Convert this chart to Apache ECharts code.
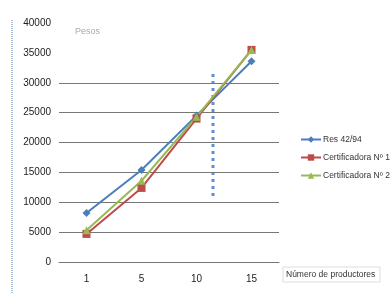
<!DOCTYPE html>
<html>
<head>
<meta charset="utf-8">
<script src="https://cdn.jsdelivr.net/npm/echarts@6/dist/echarts.min.js"></script>
<style>
  html, body { margin: 0; padding: 0; background: #fff; }
  #chart1 { width: 390px; height: 293px; }
</style>
</head>
<body>
<div id="chart1"></div>
<script>
// 数据
var categories = ['1', '5', '10', '15'];
var res4294 = [8200, 15400, 24500, 33600];
var cert1 = [4700, 12400, 24000, 35500];
var cert2 = [5300, 13600, 24300, 35500];
var seriesNames = ['Res 42/94', 'Certificadora Nº 1', 'Certificadora Nº 2'];

document.addEventListener('DOMContentLoaded', function () {
  var myChart = echarts.init(document.getElementById('chart1'));

  var option = {
    backgroundColor: '#fff',
    animation: false,
    textStyle: { fontFamily: 'Liberation Sans, sans-serif' },
    grid: { left: 59, right: 111, top: 23, bottom: 31 },
    legend: {
      orient: 'vertical',
      left: 295,
      top: 130,
      itemGap: 9,
      itemWidth: 20,
      itemHeight: 8,
      textStyle: { fontSize: 8.5, color: '#333', padding: [0, 0, 0, -3] },
      data: seriesNames
    },
    xAxis: {
      type: 'category',
      data: categories,
      axisLine: { lineStyle: { color: '#777' } },
      axisTick: { length: 4, lineStyle: { color: '#777' } },
      axisLabel: { fontSize: 10, color: '#222', margin: 12 }
    },
    yAxis: {
      type: 'value',
      min: 0,
      max: 40000,
      interval: 5000,
      axisLine: { show: false },
      axisTick: { show: false },
      axisLabel: {
        fontSize: 10, color: '#222', margin: 8,
        formatter: function (v) { return String(v); }
      },
      splitLine: {
        lineStyle: {
          color: ['#777', '#777', '#777', '#777', '#777', '#777', '#777', 'rgba(0,0,0,0)', 'rgba(0,0,0,0)'],
          width: 1
        }
      }
    },
    series: [
      {
        name: seriesNames[0],
        type: 'line',
        data: res4294,
        symbol: 'diamond',
        symbolSize: 8,
        color: '#4A7EBB',
        lineStyle: { width: 2 }
      },
      {
        name: seriesNames[1],
        type: 'line',
        data: cert1,
        symbol: 'rect',
        symbolSize: 8,
        color: '#BE4B48',
        lineStyle: { width: 2 }
      },
      {
        name: seriesNames[2],
        type: 'line',
        data: cert2,
        symbol: 'triangle',
        symbolSize: 8,
        color: '#98B954',
        lineStyle: { width: 2 }
      }
    ],
    graphic: [
      {
        type: 'line',
        shape: { x1: 12, y1: 20, x2: 12, y2: 293 },
        style: { stroke: '#4A7EBB', lineWidth: 1, lineDash: [1, 1] }
      },
      {
        type: 'line',
        shape: { x1: 213, y1: 74, x2: 213, y2: 198 },
        style: { stroke: '#5B8FD6', lineWidth: 3, lineDash: [3, 4] }
      },
      {
        type: 'text',
        left: 75,
        top: 27,
        style: { text: 'Pesos', fill: '#aaa', fontSize: 9, letterSpacing: 1 }
      },
      {
        type: 'rect',
        shape: { x: 283, y: 267, width: 97, height: 15 },
        style: { fill: '#fff', stroke: '#ddd', lineWidth: 1 }
      },
      {
        type: 'text',
        left: 286,
        top: 270,
        style: { text: 'Número de productores', fill: '#333', fontSize: 8.5 }
      }
    ]
  };

  myChart.setOption(option);
});
</script>
</body>
</html>
